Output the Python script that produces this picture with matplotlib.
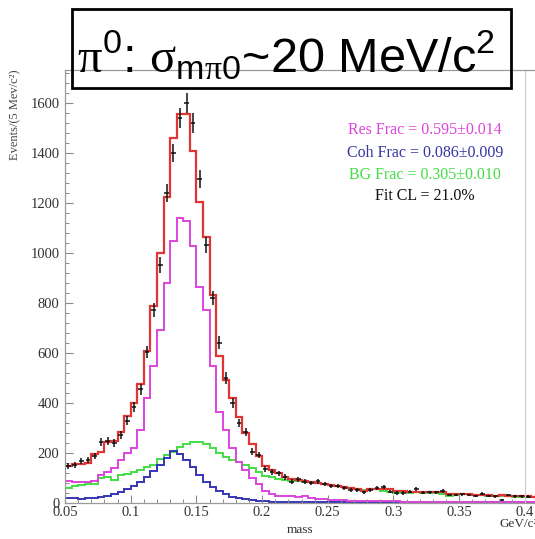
import numpy as np
import matplotlib
matplotlib.use("Agg")
import matplotlib.pyplot as plt
from matplotlib.ticker import MultipleLocator, AutoMinorLocator
from matplotlib.patches import Rectangle

plt.rcParams['mathtext.fontset'] = 'custom'
plt.rcParams['mathtext.rm'] = 'Liberation Sans'
plt.rcParams['mathtext.it'] = 'Liberation Sans:italic'
plt.rcParams['mathtext.sf'] = 'Liberation Serif'
plt.rcParams['mathtext.bf'] = 'Liberation Sans:bold'

# ---- data (bins of 5 MeV starting at 0.05 GeV) ----
bin_start = 0.05
bin_width = 0.005

data_counts = [148, 152, 169, 172, 188, 245, 248, 239, 272, 329,
               385, 455, 605, 772, 952, 1240, 1400, 1540, 1600, 1520,
               1296, 1032, 820, 641, 500, 401, 320, 285, 205, 192,
               135, 125, 119, 104, 85, 95, 85, 81, 87, 76,
               68, 67, 59, 52, 51, 43, 51, 59, 63, 45,
               40, 40, 45, 56, 41, 43, 43, 48, 32, 32,
               36, 32, 28, 37, 28, 27, 13, 32, 27, 27,
               26]

total_fit = [150, 155, 158, 160, 195, 205, 245, 248, 285, 350,
             400, 475, 610, 790, 1000, 1225, 1460, 1556, 1556, 1408,
             1204, 1064, 832, 588, 492, 420, 345, 280, 235, 190,
             150, 132, 119, 104, 96, 92, 88, 85, 82, 78,
             72, 68, 64, 62, 58, 48, 55, 58, 58, 55,
             48, 47, 46, 46, 45, 44, 44, 43, 36, 36,
             38, 36, 34, 34, 32, 30, 32, 30, 28, 27,
             27, 26]

res_fit = [88, 85, 85, 85, 88, 112, 125, 139, 172, 200,
           222, 292, 419, 550, 692, 880, 1048, 1140, 1128, 1028,
           864, 772, 550, 365, 292, 219, 165, 132, 99, 75,
           50, 38, 30, 28, 27, 26, 30, 20, 18, 18,
           14, 12, 11, 10, 9, 9, 8, 8, 7, 7,
           7, 6, 6, 6, 6, 6, 5, 5, 5, 5,
           5, 5, 5, 4, 4, 4, 4, 4, 4, 4,
           4, 4]

coh_fit = [19, 19, 15, 19, 21, 25, 28, 36, 45, 55,
           68, 85, 105, 129, 152, 180, 208, 198, 172, 145,
           112, 85, 63, 49, 36, 25, 19, 15, 12, 9,
           7, 6, 5, 5, 4, 4, 4, 3, 3, 3,
           3, 3, 3, 3, 3, 3, 3, 3, 3, 3,
           3, 3, 3, 3, 3, 3, 3, 3, 3, 3,
           3, 3, 3, 3, 3, 3, 3, 3, 3, 3,
           3, 3]

bg_fit = [62, 70, 72, 75, 78, 99, 105, 92, 112, 116,
          125, 132, 145, 152, 175, 192, 205, 223, 236, 243,
          243, 236, 219, 199, 183, 172, 165, 152, 139, 125,
          110, 105, 98, 92, 90, 87, 85, 83, 80, 76,
          72, 68, 65, 62, 58, 54, 56, 55, 50, 46,
          42, 44, 42, 44, 42, 40, 41, 38, 30, 34,
          37, 35, 33, 32, 30, 28, 30, 27, 25, 24,
          24, 23]

x_ticks = [0.05, 0.1, 0.15, 0.2, 0.25, 0.3, 0.35, 0.4]
x_tick_labels = ['0.05', '0.1', '0.15', '0.2', '0.25', '0.3', '0.35', '0.4']
y_ticks = [0, 200, 400, 600, 800, 1000, 1200, 1400, 1600]

info_lines = ['Res Frac = 0.595\u00b10.014', 'Coh Frac = 0.086\u00b10.009',
              'BG Frac = 0.305\u00b10.010', 'Fit CL = 21.0%']
info_colors = ['#dd44dd', '#3535a5', '#44dd44', '#111111']

# ---- figure ----
W, H = 535, 539
fig = plt.figure(figsize=(W / 100, H / 100), dpi=100)
fig.patch.set_facecolor('white')
ax = fig.add_axes([65 / W, 36 / H, 470 / W, 433 / H])

n_fit = len(total_fit)
edges = bin_start + bin_width * np.arange(n_fit + 1)

ax.stairs(bg_fit, edges, color='#44dd44', lw=1.4, baseline=None)
ax.stairs(coh_fit, edges, color='#3535b5', lw=1.4, baseline=None)
ax.stairs(res_fit, edges, color='#dd44dd', lw=1.4, baseline=None)
ax.stairs(total_fit, edges, color='#e03535', lw=1.6, baseline=None)

dc = np.array(data_counts, dtype=float)
xc = bin_start + bin_width * (np.arange(len(dc)) + 0.5)
ax.errorbar(xc, dc, yerr=np.sqrt(dc), xerr=0.0018, fmt='none',
            ecolor='#111111', elinewidth=1.1, capsize=0, zorder=5)

ax.axvline(0.4, color='#cccccc', lw=0.8)

ax.set_xlim(0.05, 0.4077)
ax.set_ylim(0, 1732)

for s in ['left', 'bottom', 'top']:
    ax.spines[s].set_color('#9a9a9a')
    ax.spines[s].set_linewidth(0.9)
ax.spines['right'].set_visible(False)

ax.set_xticks(x_ticks)
ax.set_xticklabels(x_tick_labels)
ax.set_yticks(y_ticks)
ax.xaxis.set_minor_locator(AutoMinorLocator(5))
ax.yaxis.set_minor_locator(AutoMinorLocator(5))
ax.tick_params(which='major', direction='in', length=6, width=0.8, color='#8a8a8a',
               labelcolor='#333333', labelsize=10.5)
ax.tick_params(which='minor', direction='in', length=3, width=0.7, color='#8a8a8a')
ax.tick_params(axis='x', which='both', top=False, pad=2)
ax.tick_params(axis='y', which='both', right=False, pad=4)
for lab in ax.get_xticklabels() + ax.get_yticklabels():
    lab.set_family('Liberation Serif')

# axis labels
fig.text(15 / W, 1 - 70 / H, 'Events/(5 Mev/c\u00b2)', rotation=90, ha='center', va='top',
         family='Liberation Serif', fontsize=9, color='#444444')
fig.text(300 / W, 1 - 530 / H, 'mass', ha='center', va='center',
         family='Liberation Serif', fontsize=9.5, color='#333333')
fig.text(500 / W, 1 - 524 / H, 'GeV/c\u00b2', ha='left', va='center',
         family='Liberation Serif', fontsize=9.5, color='#333333')

# fit info
info_y = [130, 153, 175, 196]
for t, c, y in zip(info_lines, info_colors, info_y):
    fig.text(425 / W, 1 - y / H, t, ha='center', va='center',
             family='Liberation Serif', fontsize=11.5, color=c)

# title box
fig.patches.append(Rectangle((72 / W, 1 - 88 / H), (511 - 72) / W, (88 - 9) / H,
                             transform=fig.transFigure, fill=False,
                             edgecolor='black', lw=2))
fig.text(77 / W, 1 - 72 / H,
         r'$\mathsf{\pi}^{\mathrm{0}}$: $\mathsf{\sigma}_{\mathrm{m}\mathsf{\pi}\mathrm{0}}$~20 MeV/c$^{\mathrm{2}}$',
         ha='left', va='baseline', family='Liberation Sans', fontsize=35, color='black')

fig.savefig('out.png', dpi=100)
